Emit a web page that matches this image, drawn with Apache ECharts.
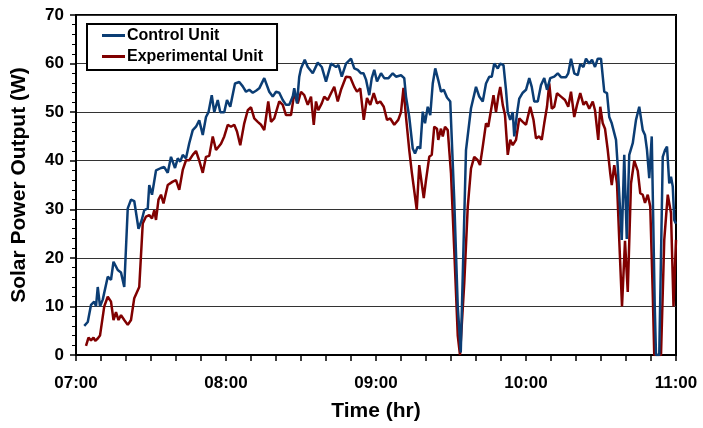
<!DOCTYPE html>
<html>
<head>
<meta charset="utf-8">
<script src="https://cdn.jsdelivr.net/npm/echarts@6/dist/echarts.min.js"></script>
<style>
  html, body { margin: 0; padding: 0; background: #fff; }
  #chart { width: 703px; height: 428px; }
</style>
</head>
<body>
<div id="chart"></div>
<script>
// Minutes after 07:00 and solar power output (W) for each unit
const controlMinutes = [3.3,4.7,6,7.3,8,8.7,9.6,10.7,12.7,14,15,16.7,18,19.3,20.7,22,23.3,24,25,26.3,27.3,28.7,29.3,30.4,32,34,35.3,36.7,38,39.6,40.7,41.7,42.7,44,45.3,46.7,48,49.3,50.7,52,53,54.3,55.3,56.7,57.7,59.3,60.4,61.7,63.6,65.3,66.7,68,69.3,70.7,72,73.3,75.3,77.3,78.7,80,81.3,82.7,84,85.3,86.7,87.3,88.4,89.3,90,91.5,92.7,94.7,96.7,98.3,100,102,104,105,106.3,108,110,111.3,112.7,114,115,116,117.3,118.3,119.3,120.4,122,123.3,125,126.7,128,130,131.3,132,133.3,134.7,135.6,136.7,137.7,138.7,139.6,140.7,141.7,142.7,143.7,144.9,146,147.1,148.4,149.7,151.3,152.7,153.9,156,158,160,161.3,162.7,164,165.3,166.3,167.3,168.7,169.7,171,172,172.7,173.7,174.7,175.3,176.4,177.3,178.7,180,181.3,182.3,183.3,184.7,186,187.3,188.4,189.7,191.3,192.7,194,196,196.9,198,199.3,200.7,201.7,203,204,205.3,206.4,207.6,208.7,210,211.3,212.4,213.3,214.3,215,216,216.7,217.7,218.3,219.3,220.3,221.3,222.7,224,225.3,226.7,227.6,228.4,229.3,230.3,231.5,232,233.3,234.7,235.6,236.4,237.3,238,238.7,239.3,240];
const controlPower = [6.0,6.8,10.3,11,10,14,10,11.4,16.1,15.5,19.2,17.5,17,14,30.2,32,31.7,32,26,27.8,29.8,30.2,35,33,38,38.5,38.7,37.5,40.8,38.5,40.5,39.8,41.2,40.5,43.6,46.3,47,48.3,45.3,49,50,53.5,50,52.5,50,50,52.5,51.1,55.9,56.2,55.3,54.2,54.6,54,54.4,54.9,57,54.2,53.2,54.2,54,52.5,51.5,51.5,53.2,54.9,51.8,57.3,59,60.8,59.3,58,60.2,59.3,56.3,60,59.3,59.7,57.3,60,61,59,58.7,58,58,56.7,53.5,57,58.7,56.3,58,57,57,58,57.3,57.6,57,53.2,49,42.5,41.5,42.9,42.5,50.1,47.7,51.1,49.4,55.9,59,56.6,54.2,54.6,53,52.2,31.9,10,0.5,42.2,50.8,55.2,53.2,52.2,55.9,57.3,57.3,60,59,60,59.7,54.6,50,48.4,50,45,49.7,52.8,54,54.6,57,55.2,52.2,52.2,55.6,57,54.6,57,57.3,58,57.2,57.2,58,61,58,57.6,59.9,59.3,61,60,60.8,59.3,61,61,54.2,53.9,49,47.7,48,44.3,38.8,29.2,23.7,41.2,23.9,41.2,43.6,48.4,51.1,46.3,45.3,42.2,36.4,45,10,0,0,40.8,42.2,42.9,35.3,36.7,34.7,27.8,27];

const expMinutes = [4,5,6,7,7.7,8.7,9.6,11.3,12.7,14,15,16,17,18,19.3,20.7,22,23.3,25.3,26.7,28,29.3,30.4,31.3,32,33,34,35,36.7,38.7,40,41.3,42.7,44,45.3,46.7,48,49.3,50.7,52,53.3,54.7,56,58,59.3,60.7,62,63.3,64.4,65.7,67.3,68.7,70,71.3,72.7,74,75.3,76.9,78,79.3,81.3,82.7,84,86,87.3,88.7,90,91.3,92.7,94,95.1,96,96.9,98.3,99.3,100.7,102,103.3,104.7,106,108,109.7,111.3,112.4,113.7,115.1,116.4,117.7,119.1,120.4,121.7,123.1,124.4,125.7,127.3,128.9,130,131,132,133.3,134.3,135.1,136.3,137.3,138.3,139.1,140,141.3,142.3,143.3,144.4,144.9,146,146.7,147.6,148.7,150,151.3,152.7,153.6,154.3,155.3,156.7,158,159.3,160.7,161.6,162.7,164,164.9,166,167,168,169,169.7,170.7,171.6,172.7,173.7,174.7,176,177.3,178.7,180,181.7,183,184,185.3,186.3,187.3,188.4,189.3,190.3,191.3,192.4,194,195.6,196.9,198,199.3,200.4,201.7,203,204,205.3,206.7,207.6,208.9,209.7,210.7,211.6,212.7,213.7,214.3,215.3,216.4,217.3,218.4,219.6,220.7,222,223.3,224.7,225.7,226.7,227.6,228.7,229.7,230.7,231.3,234,235.3,236.7,238,239,240];
const expPower = [1.9,3.6,3,3.6,2.9,3.4,4,10,12,11,7.2,8.8,7.2,8.2,7.2,6.2,7.2,11.7,14,27.1,28.5,28.8,28.1,29.8,27.8,32,33,31.2,35,35.7,36,34,38.1,40.1,40.1,41.2,42,40,37.5,40.8,41,45,42.2,43.5,45,47.4,47,47.4,46,43.2,47.7,50.4,51,48.7,48,47.4,46.3,52.2,48,48.7,52.2,51.5,49.4,49.4,53.9,51.8,54.2,53.5,51.5,53.2,47.4,52.2,50.4,51.8,53.2,52.5,53.9,55.2,52.2,54.6,57.3,57.2,55.2,54.2,54.9,48.4,52.9,51.5,53.9,51.8,52.2,51.1,48.4,48.7,47.4,48.4,50,55,49,42.2,37.7,37.4,29.9,39.1,35.3,32.3,36,40.8,41.2,47,46.6,44.3,46.6,45,47,46.3,37.4,21.6,4,0,0,14.8,30.5,38.4,40.8,40.1,39.1,42.9,47.7,47,50.4,53.5,50,53.5,55.2,51.5,49.4,41.2,44.3,43.2,44.3,48.7,48,47.4,51.1,48.4,44.6,45,44.3,47.7,51.1,55.9,50.7,51.1,53.9,53.2,52.5,51.1,54.2,49,51.5,53.9,51.5,52.2,50.7,52.2,50.4,44.3,51.1,47.7,46.6,42.2,37.4,35,39.1,35.3,23.7,10,23.5,13,35.3,40,37.9,33.3,33,31.3,33,30.6,12.6,0,0,23.7,33,29.2,10,23.7];

const timeLabels = ['07:00', '08:00', '09:00', '10:00', '11:00'];
const seriesNames = ['Control Unit', 'Experimental Unit'];

function pairs(xs, ys) {
  return xs.map((x, i) => [x, ys[i]]);
}

const FONT = '"Liberation Sans", Arial, Helvetica, sans-serif';

const chart = echarts.init(document.getElementById('chart'), null, { renderer: 'canvas' });

chart.setOption({
  animation: false,
  backgroundColor: '#ffffff',
  grid: {
    left: 76, right: 27, top: 15, bottom: 73,
    containLabel: false,
    outerBoundsMode: 'none',
    show: true,
    borderColor: '#000',
    borderWidth: 2,
    backgroundColor: 'transparent'
  },
  legend: {
    orient: 'vertical',
    left: 87,
    top: 24,
    padding: [3, 14, 5, 15],
    itemGap: 4,
    itemWidth: 23,
    itemHeight: 3,
    icon: 'rect',
    borderColor: '#000',
    borderWidth: 2,
    backgroundColor: '#fff',
    data: seriesNames,
    textStyle: {
      fontFamily: FONT,
      fontWeight: 'bold',
      fontSize: 16,
      lineHeight: 17,
      color: '#000',
      padding: [0, 0, 0, -3]
    }
  },
  xAxis: {
    type: 'value',
    min: 0,
    max: 240,
    interval: 60,
    name: 'Time (hr)',
    nameLocation: 'middle',
    nameGap: 46,
    nameTextStyle: { fontFamily: FONT, fontWeight: 'bold', fontSize: 21, color: '#000' },
    axisLine: { show: true, onZero: false, lineStyle: { color: '#000', width: 2 } },
    axisTick: { show: true, inside: false, length: 6, lineStyle: { color: '#000', width: 1.5 } },
    minorTick: { show: true, splitNumber: 6, length: 6, lineStyle: { color: '#000', width: 1.5 } },
    axisLabel: {
      margin: 20,
      fontFamily: FONT, fontWeight: 'bold', fontSize: 17, color: '#000',
      formatter: v => timeLabels[Math.round(v / 60)] || ''
    },
    splitLine: { show: false }
  },
  yAxis: {
    type: 'value',
    min: 0,
    max: 70,
    interval: 10,
    name: 'Solar Power Output (W)',
    nameLocation: 'middle',
    nameGap: 46,
    nameTextStyle: { fontFamily: FONT, fontWeight: 'bold', fontSize: 21, color: '#000' },
    axisLine: { show: true, lineStyle: { color: '#000', width: 2 } },
    axisTick: { show: true, inside: false, length: 6, lineStyle: { color: '#000', width: 1.5 } },
    minorTick: { show: true, splitNumber: 5, length: 4, lineStyle: { color: '#000', width: 1 } },
    axisLabel: {
      margin: 12,
      fontFamily: FONT, fontWeight: 'bold', fontSize: 17, color: '#000'
    },
    splitLine: { show: true, lineStyle: { color: '#333', width: 1 } }
  },
  series: [
    {
      name: seriesNames[0],
      type: 'line',
      data: pairs(controlMinutes, controlPower),
      showSymbol: false,
      symbol: 'none',
      z: 3,
      color: '#0B3D74',
      lineStyle: { color: '#0B3D74', width: 2.5 }
    },
    {
      name: seriesNames[1],
      type: 'line',
      data: pairs(expMinutes, expPower),
      showSymbol: false,
      symbol: 'none',
      z: 2,
      color: '#800000',
      lineStyle: { color: '#800000', width: 2.5 }
    }
  ]
});
</script>
</body>
</html>
